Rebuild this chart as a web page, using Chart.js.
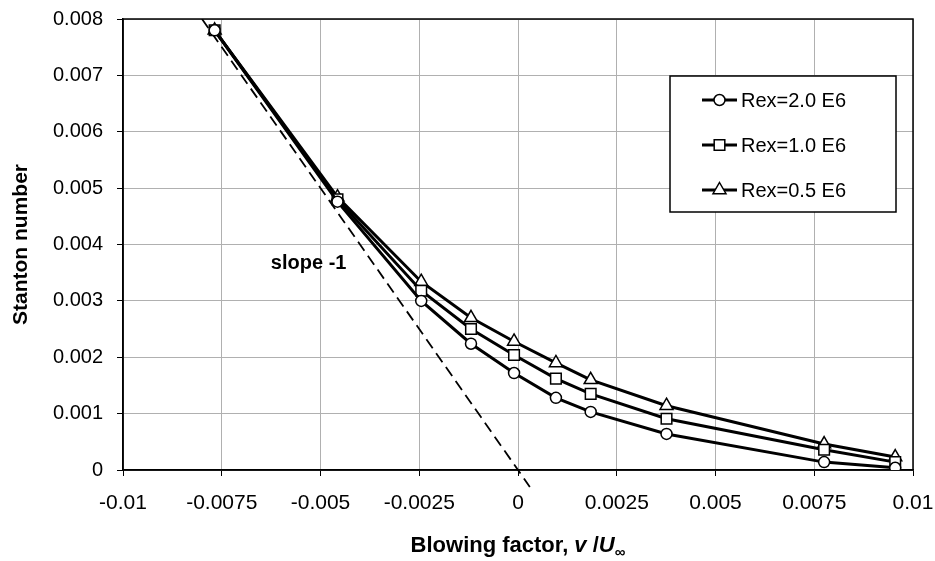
<!DOCTYPE html>
<html>
<head>
<meta charset="utf-8">
<script src="https://cdn.jsdelivr.net/npm/chart.js@4.4.0/dist/chart.umd.min.js"></script>
<style>
  html, body { margin: 0; padding: 0; background: #fff; }
  canvas { display: block; }
</style>
</head>
<body>
<canvas id="chart" width="935" height="561"></canvas>
<script>
// blowing factor v/U (x) and Stanton number (y)
const blowing = [-0.00768, -0.00457, -0.00245, -0.00119, -0.0001, 0.00096, 0.00184, 0.00376, 0.00775, 0.00955];
const stRex20 = [0.0078, 0.00476, 0.0030, 0.00224, 0.00172, 0.00128, 0.00103, 0.00064, 0.00014, 0.00004];
const stRex10 = [0.0078, 0.0048, 0.00318, 0.0025, 0.00204, 0.00162, 0.00135, 0.00091, 0.00036, 0.00014];
const stRex05 = [0.0078, 0.00484, 0.00334, 0.0027, 0.00228, 0.0019, 0.0016, 0.00114, 0.00046, 0.00023];
const seriesNames = ['Rex=2.0 E6', 'Rex=1.0 E6', 'Rex=0.5 E6'];

// slope -1 reference line
const slopeX = [-0.008, 0.0003];
const slopeY = [0.008, -0.0003];
const slopeLabel = 'slope -1';
const slopeLabelAt = [-0.0053, 0.00366];

const xTicks = [-0.01, -0.0075, -0.005, -0.0025, 0, 0.0025, 0.005, 0.0075, 0.01];
const xTickLabels = ['-0.01', '-0.0075', '-0.005', '-0.0025', '0', '0.0025', '0.005', '0.0075', '0.01'];
const yTicks = [0, 0.001, 0.002, 0.003, 0.004, 0.005, 0.006, 0.007, 0.008];
const yTickLabels = ['0', '0.001', '0.002', '0.003', '0.004', '0.005', '0.006', '0.007', '0.008'];

const FONT = "'Liberation Sans', Arial, sans-serif";

function pts(xs, ys) {
  return xs.map((x, i) => ({ x: x, y: ys[i] }));
}

function series(label, ys, style, radius) {
  return {
    label: label,
    data: pts(blowing, ys),
    borderColor: '#000',
    borderWidth: 3,
    pointStyle: style,
    pointRadius: radius,
    pointBackgroundColor: '#fff',
    pointBorderColor: '#000',
    pointBorderWidth: 1.5,
    tension: 0
  };
}

function marker(ctx, style, x, y, r) {
  ctx.beginPath();
  if (style === 'circle') {
    ctx.arc(x, y, r, 0, Math.PI * 2);
  } else if (style === 'rect') {
    const s = r * Math.SQRT1_2;
    ctx.rect(x - s, y - s, 2 * s, 2 * s);
  } else {
    ctx.moveTo(x, y - r);
    ctx.lineTo(x + r * 0.866, y + r * 0.5);
    ctx.lineTo(x - r * 0.866, y + r * 0.5);
    ctx.closePath();
  }
  ctx.fillStyle = '#fff';
  ctx.fill();
  ctx.lineWidth = 1.5;
  ctx.strokeStyle = '#000';
  ctx.stroke();
}

// black frame round the plot area
const frame = {
  id: 'frame',
  beforeDatasetsDraw(chart) {
    const a = chart.chartArea, ctx = chart.ctx;
    ctx.save();
    ctx.strokeStyle = '#000';
    ctx.lineWidth = 1.5;
    ctx.strokeRect(a.left, a.top, a.right - a.left, a.bottom - a.top);
    ctx.restore();
  }
};

// boxed legend inside the plot, slope label and x axis title
const extras = {
  id: 'extras',
  afterDatasetsDraw(chart) {
    const a = chart.chartArea, ctx = chart.ctx;
    const xs = chart.scales.x, ys = chart.scales.y;
    ctx.save();

    // slope label
    ctx.font = 'bold 20px ' + FONT;
    ctx.fillStyle = '#000';
    ctx.textAlign = 'center';
    ctx.textBaseline = 'middle';
    ctx.fillText(slopeLabel, xs.getPixelForValue(slopeLabelAt[0]), ys.getPixelForValue(slopeLabelAt[1]));

    // legend
    const left = a.right - 243, top = a.top + 57, w = 226, h = 136;
    ctx.fillStyle = '#fff';
    ctx.fillRect(left, top, w, h);
    ctx.strokeStyle = '#000';
    ctx.lineWidth = 1.5;
    ctx.strokeRect(left, top, w, h);
    chart.data.datasets.forEach((ds, i) => {
      if (!ds.pointStyle) return;
      const y = top + 24 + i * 45;
      ctx.beginPath();
      ctx.moveTo(left + 32, y);
      ctx.lineTo(left + 67, y);
      ctx.lineWidth = 3;
      ctx.strokeStyle = '#000';
      ctx.stroke();
      marker(ctx, ds.pointStyle, left + 49.5, y, ds.pointRadius);
      ctx.fillStyle = '#000';
      ctx.font = '20px ' + FONT;
      ctx.textAlign = 'left';
      ctx.textBaseline = 'middle';
      ctx.fillText(ds.label, left + 71, y + 1);
    });

    // x axis title with italic v and U, subscript infinity
    const parts = [
      { t: 'Blowing factor, ', f: 'bold 22px ' + FONT, dy: 0 },
      { t: 'v', f: 'italic bold 22px ' + FONT, dy: 0 },
      { t: ' /', f: 'bold 22px ' + FONT, dy: 0 },
      { t: 'U', f: 'italic bold 22px ' + FONT, dy: 0 },
      { t: '\u221e', f: 'bold 15px ' + FONT, dy: 5 }
    ];
    let total = 0;
    parts.forEach(p => { ctx.font = p.f; p.w = ctx.measureText(p.t).width; total += p.w; });
    let x = (a.left + a.right) / 2 - total / 2;
    const base = 552;
    ctx.textAlign = 'left';
    ctx.textBaseline = 'alphabetic';
    ctx.fillStyle = '#000';
    parts.forEach(p => { ctx.font = p.f; ctx.fillText(p.t, x, base + p.dy); x += p.w; });
    ctx.restore();
  }
};

new Chart(document.getElementById('chart'), {
  type: 'line',
  data: {
    datasets: [
      series(seriesNames[0], stRex20, 'circle', 5.5),
      series(seriesNames[1], stRex10, 'rect', 7.5),
      series(seriesNames[2], stRex05, 'triangle', 7.5),
      {
        label: '',
        data: pts(slopeX, slopeY),
        borderColor: '#000',
        borderWidth: 1.8,
        borderDash: [11, 6],
        pointRadius: 0,
        clip: { left: 0, top: 0, right: 0, bottom: 20 }
      }
    ]
  },
  options: {
    responsive: false,
    animation: false,
    devicePixelRatio: 1,
    layout: { padding: { top: 19, right: 22, left: 0, bottom: 0 } },
    plugins: { legend: { display: false }, tooltip: { enabled: false } },
    scales: {
      x: {
        type: 'linear',
        min: -0.01,
        max: 0.01,
        afterBuildTicks: s => { s.ticks = xTicks.map(v => ({ value: v })); },
        afterFit: s => { s.height = 91; s.paddingLeft = 0; s.paddingRight = 0; },
        ticks: {
          callback: (v, i) => xTickLabels[i],
          color: '#000',
          font: { family: FONT, size: 21 },
          padding: 15,
          maxRotation: 0,
          autoSkip: false
        },
        grid: { color: '#b0b0b0', lineWidth: 1, tickColor: '#000', tickLength: 6 },
        border: { color: '#000', width: 1.5 }
      },
      y: {
        type: 'linear',
        min: 0,
        max: 0.008,
        afterBuildTicks: s => { s.ticks = yTicks.map(v => ({ value: v })); },
        afterFit: s => { s.width = 123; s.paddingTop = 0; s.paddingBottom = 0; },
        ticks: {
          callback: (v, i) => yTickLabels[i],
          color: '#000',
          font: { family: FONT, size: 20 },
          padding: 14,
          autoSkip: false
        },
        grid: { color: '#b0b0b0', lineWidth: 1, tickColor: '#000', tickLength: 6 },
        border: { color: '#000', width: 1.5 },
        title: {
          display: true,
          text: 'Stanton number',
          color: '#000',
          font: { family: FONT, size: 21, weight: 'bold' },
          padding: { top: 9, bottom: 0 }
        }
      }
    }
  },
  plugins: [frame, extras]
});
</script>
</body>
</html>
